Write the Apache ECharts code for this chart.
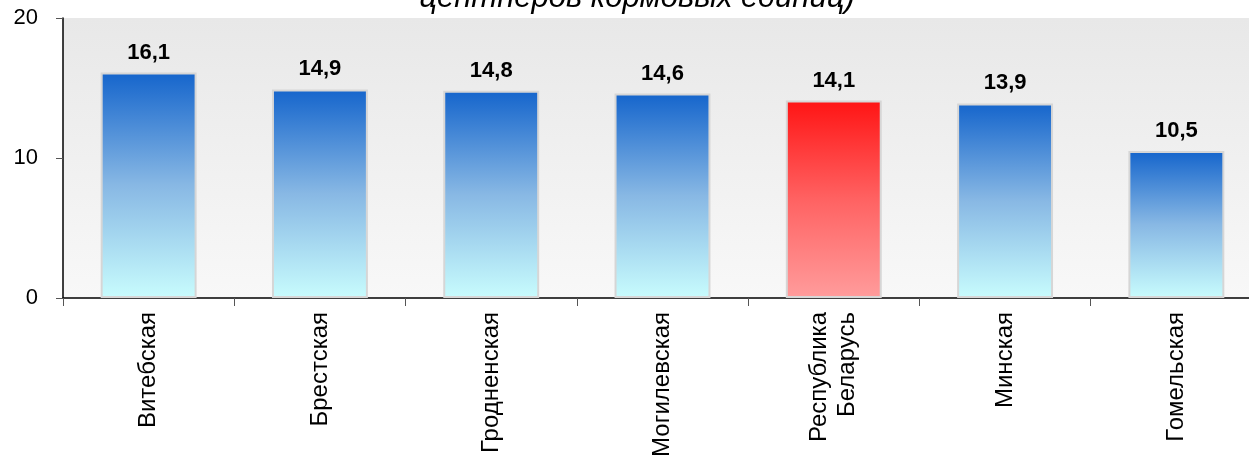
<!DOCTYPE html>
<html>
<head>
<meta charset="utf-8">
<script src="https://cdn.jsdelivr.net/npm/echarts@6/dist/echarts.min.js"></script>
<style>
  html, body { margin: 0; padding: 0; background: #fff; }
  #chart { width: 1249px; height: 460px; }
</style>
</head>
<body>
<div id="chart"></div>
<script>
// области
const categories = ['Витебская', 'Брестская', 'Гродненская', 'Могилевская', 'Республика\nБеларусь', 'Минская', 'Гомельская'];
// значения
const values = [16.1, 14.9, 14.8, 14.6, 14.1, 13.9, 10.5];
// какой столбец выделен красным
const highlight = [false, false, false, false, true, false, false];
const yTicks = [0, 10, 20];

const blueFill = new echarts.graphic.LinearGradient(0, 0, 0, 1, [
  { offset: 0, color: '#1565cc' },
  { offset: 0.5, color: '#88b8e4' },
  { offset: 1, color: '#c8fcfd' }
]);
const redFill = new echarts.graphic.LinearGradient(0, 0, 0, 1, [
  { offset: 0, color: '#ff1414' },
  { offset: 0.5, color: '#ff6262' },
  { offset: 1, color: '#ff9c9c' }
]);

const chart = echarts.init(document.getElementById('chart'));
chart.setOption({
  animation: false,
  textStyle: { fontFamily: 'Liberation Sans, Arial, sans-serif' },
  title: {
    text: 'центнеров кормовых единиц)',
    left: 632,
    textAlign: 'center',
    top: -22,
    textStyle: { fontSize: 31, fontStyle: 'italic', fontWeight: 'normal', color: '#000' }
  },
  // область построения уходит за правый край
  grid: { left: 63, top: 18, width: 1199, height: 280, outerBoundsMode: 'none', containLabel: false },
  xAxis: {
    type: 'category',
    data: categories,
    axisLine: { lineStyle: { color: '#000', width: 1.5 } },
    axisTick: { show: true, length: 8, lineStyle: { color: '#555' } },
    axisLabel: { rotate: 90, color: '#000', fontSize: 24, margin: 14, lineHeight: 28 }
  },
  yAxis: {
    type: 'value',
    min: yTicks[0],
    max: yTicks[yTicks.length - 1],
    interval: 10,
    axisLine: { show: true, lineStyle: { color: '#000', width: 1.5 } },
    axisTick: { show: true, length: 7, lineStyle: { color: '#555' } },
    axisLabel: { color: '#000', fontSize: 22, margin: 25 },
    splitLine: { show: false }
  },
  graphic: [{
    type: 'rect',
    z: -1,
    shape: { x: 63, y: 18, width: 1186, height: 280 },
    style: {
      fill: new echarts.graphic.LinearGradient(0, 0, 0, 1, [
        { offset: 0, color: '#e8e8e8' },
        { offset: 1, color: '#f8f8f8' }
      ])
    }
  }],
  series: [{
    type: 'bar',
    barWidth: '56%',
    data: values.map((v, i) => ({
      value: v,
      itemStyle: { color: highlight[i] ? redFill : blueFill }
    })),
    itemStyle: { borderColor: '#d6d6d6', borderWidth: 2 },
    label: {
      show: true,
      position: 'top',
      distance: 9,
      color: '#000',
      fontSize: 22,
      fontWeight: 'bold',
      formatter: p => String(p.value).replace('.', ',')
    }
  }]
});
</script>
</body>
</html>
